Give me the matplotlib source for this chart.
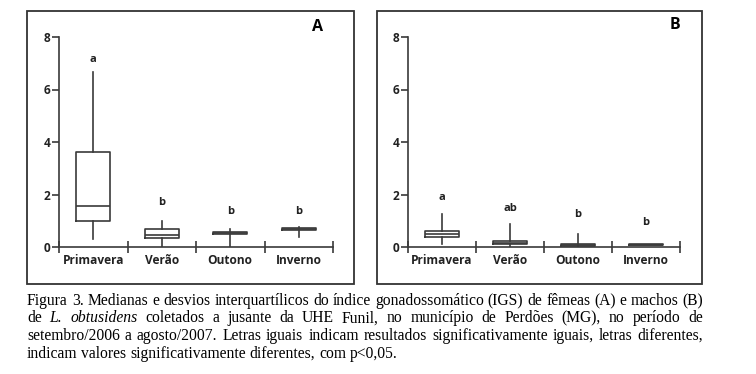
# Boxplots do IGS de fêmeas (A) e machos (B) por estação + legenda da figura

import matplotlib
matplotlib.use("Agg")
import matplotlib.pyplot as plt
from matplotlib.patches import Rectangle

# dados
categorias = ['Primavera', 'Verão', 'Outono', 'Inverno']

femeas_min = [0.32, 0.0, 0.0, 0.37]
femeas_q1 = [0.99, 0.33, 0.51, 0.65]
femeas_med = [1.57, 0.45, 0.55, 0.69]
femeas_q3 = [3.62, 0.67, 0.59, 0.73]
femeas_max = [6.65, 1.0, 0.69, 0.77]
femeas_letras = ['a', 'b', 'b', 'b']
femeas_letras_y = [7.16, 1.69, 1.36, 1.37]

machos_min = [0.13, 0.0, 0.0, 0.06]
machos_q1 = [0.37, 0.1, 0.04, 0.06]
machos_med = [0.49, 0.17, 0.07, 0.08]
machos_q3 = [0.61, 0.23, 0.11, 0.1]
machos_max = [1.26, 0.88, 0.48, 0.12]
machos_letras = ['a', 'ab', 'b', 'b']
machos_letras_y = [1.9, 1.47, 1.23, 0.93]

W, H = 756, 374
COR = '#3a3a3a'
FONTE = ['Open Sans', 'DejaVu Sans']

fig = plt.figure(figsize=(W / 100, H / 100), dpi=100)


def px_axes(x0, x1, y_top, y_bot):
    return [x0 / W, 1 - y_bot / H, (x1 - x0) / W, (y_bot - y_top) / H]


def painel(ax, mins, q1, med, q3, maxs, letras, letras_y):
    stats = []
    for i in range(len(categorias)):
        stats.append(dict(whislo=mins[i], q1=q1[i], med=med[i], q3=q3[i],
                          whishi=maxs[i], label=categorias[i]))
    estilo = dict(color=COR, linewidth=1.2)
    ax.bxp(stats, positions=range(1, 5), widths=0.5, showfliers=False,
           showcaps=False, boxprops=estilo, medianprops=estilo,
           whiskerprops=estilo)
    for i, (l, y) in enumerate(zip(letras, letras_y)):
        ax.text(i + 1, y, l, ha='center', va='center', fontsize=8,
                fontweight='bold', family=FONTE, color='#222222')
    ax.set_xlim(0.5, 4.5)
    ax.set_ylim(0, 8)
    ax.set_yticks([0, 2, 4, 6, 8])
    ax.set_yticklabels(['0', '2', '4', '6', '8'])
    ax.set_xticks([0.5, 1.5, 2.5, 3.5, 4.5])
    ax.set_xticklabels([])
    ax.set_xticks([1, 2, 3, 4], minor=True)
    ax.set_xticklabels(categorias, minor=True)
    ax.tick_params(axis='x', which='major', direction='inout', length=9,
                   width=1.2, color=COR)
    ax.tick_params(axis='x', which='minor', length=0, pad=5)
    ax.tick_params(axis='y', direction='out', length=5, width=1.2,
                   color=COR, pad=1)
    for lab in ax.get_xticklabels(minor=True) + ax.get_yticklabels():
        lab.set_fontfamily(FONTE)
        lab.set_fontweight('bold')
        lab.set_fontsize(8.6)
        lab.set_color('#222222')
    for s in ['top', 'right']:
        ax.spines[s].set_visible(False)
    for s in ['left', 'bottom']:
        ax.spines[s].set_color(COR)
        ax.spines[s].set_linewidth(1.2)
    ax.set_facecolor('none')


ax_a = fig.add_axes(px_axes(59, 333, 37, 247))
painel(ax_a, femeas_min, femeas_q1, femeas_med, femeas_q3, femeas_max,
       femeas_letras, femeas_letras_y)
ax_b = fig.add_axes(px_axes(408, 680, 37, 247))
painel(ax_b, machos_min, machos_q1, machos_med, machos_q3, machos_max,
       machos_letras, machos_letras_y)

# molduras dos painéis
for x0, x1 in [(27, 354), (377, 702)]:
    fig.patches.append(Rectangle((x0 / W, 1 - 284 / H), (x1 - x0) / W,
                                 (284 - 11) / H, transform=fig.transFigure,
                                 fill=False, edgecolor='#333333', lw=1.3))
fig.text(318 / W, 1 - 27 / H, 'A', ha='center', va='center', fontsize=11.5,
         fontweight='bold', family=FONTE)
fig.text(675 / W, 1 - 25 / H, 'B', ha='center', va='center', fontsize=11.5,
         fontweight='bold', family=FONTE)

# legenda justificada
linhas = [
    [("Figura 3. Medianas e desvios interquartílicos do índice gonadossomático (IGS) de fêmeas (A) e machos (B)", 'normal')],
    [("de", 'normal'), ("L. obtusidens", 'italic'),
     ("coletados a jusante da UHE Funil, no município de Perdões (MG), no período de", 'normal')],
    [("setembro/2006 a agosto/2007. Letras iguais indicam resultados significativamente iguais, letras diferentes,", 'normal')],
    [("indicam valores significativamente diferentes, com p<0,05.", 'normal')],
]
X0, X1 = 27, 703
baselines = [305, 322.5, 340, 357.5]
SERIF = 'Liberation Serif'

fig.canvas.draw()
r = fig.canvas.get_renderer()

# ajusta o corpo da fonte para que a 1a linha ocupe a largura toda
fs = 10.0
teste = fig.text(0, 0, linhas[0][0][0], fontsize=fs, family=SERIF)
fs = fs * (X1 - X0) / teste.get_window_extent(r).width
teste.remove()
esp = fig.text(0, 0, 'a a', fontsize=fs, family=SERIF)
esp_aa = fig.text(0, 0, 'aa', fontsize=fs, family=SERIF)
espaco = esp.get_window_extent(r).width - esp_aa.get_window_extent(r).width
esp.remove()
esp_aa.remove()

for n, (partes, yb) in enumerate(zip(linhas, baselines)):
    palavras = []
    for txt, st in partes:
        for w in txt.split(' '):
            palavras.append((w, st))
    artistas = []
    larg = 0
    for w, st in palavras:
        t = fig.text(0, 1 - yb / H, w, fontsize=fs, family=SERIF,
                     style=st, va='baseline', ha='left')
        bb = t.get_window_extent(r)
        artistas.append((t, bb.width))
        larg += bb.width
    if n < len(linhas) - 1:
        gap = (X1 - X0 - larg) / (len(palavras) - 1)
    else:
        gap = espaco
    x = X0
    for t, wd in artistas:
        t.set_x(x / W)
        x += wd + gap

fig.savefig('out.png', dpi=100)
